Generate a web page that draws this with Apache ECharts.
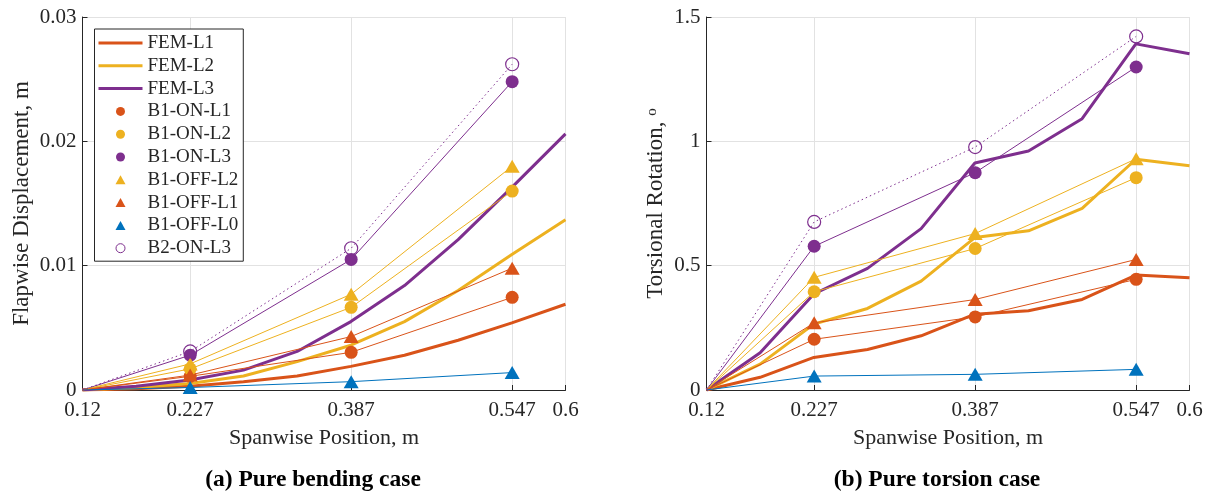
<!DOCTYPE html>
<html>
<head>
<meta charset="utf-8">
<script src="https://cdn.jsdelivr.net/npm/echarts@6/dist/echarts.min.js"></script>
<style>
  html, body { margin: 0; padding: 0; background: #fff; }
  #chart { width: 1207px; height: 491px; }
</style>
</head>
<body>
<div id="chart"></div>
<script>
// ---------------- data ----------------
const xTicks = [0.12, 0.227, 0.387, 0.547, 0.6];
const xFem = [0.12, 0.1733, 0.2267, 0.28, 0.3333, 0.3867, 0.44, 0.4933, 0.5467, 0.6];
const xExp = [0.12, 0.227, 0.387, 0.547];

// (a) Pure bending case: flapwise displacement, m
const bendFemL1 = [0, 0.0001, 0.0003, 0.00067, 0.00113, 0.0019, 0.0028, 0.004, 0.0054, 0.0069];
const bendFemL2 = [0, 0.0002, 0.00053, 0.00113, 0.00228, 0.0036, 0.0055, 0.008, 0.0109, 0.0137];
const bendFemL3 = [0, 0.0003, 0.0008, 0.0016, 0.0031, 0.0055, 0.0084, 0.0121, 0.0163, 0.0206];
const bendB1OnL1 = [0, 0.0011, 0.00303, 0.00745];
const bendB1OnL2 = [0, 0.0017, 0.00665, 0.016];
const bendB1OnL3 = [0, 0.0028, 0.0105, 0.0248];
const bendB1OffL2 = [0, 0.0021, 0.0077, 0.018];
const bendB1OffL1 = [0, 0.0012, 0.0043, 0.0098];
const bendB1OffL0 = [0, 0.0002, 0.00067, 0.0014];
const bendB2OnL3 = [0, 0.0031, 0.0114, 0.0262];

// (b) Pure torsion case: torsional rotation, deg
const torsFemL1 = [0, 0.051, 0.131, 0.163, 0.218, 0.305, 0.319, 0.364, 0.462, 0.451];
const torsFemL2 = [0, 0.104, 0.265, 0.328, 0.438, 0.613, 0.64, 0.73, 0.928, 0.902];
const torsFemL3 = [0, 0.15, 0.386, 0.489, 0.649, 0.913, 0.961, 1.091, 1.392, 1.352];
const torsB1OnL1 = [0, 0.204, 0.294, 0.445];
const torsB1OnL2 = [0, 0.395, 0.569, 0.854];
const torsB1OnL3 = [0, 0.578, 0.874, 1.299];
const torsB1OffL2 = [0, 0.453, 0.629, 0.93];
const torsB1OffL1 = [0, 0.27, 0.364, 0.525];
const torsB1OffL0 = [0, 0.056, 0.063, 0.083];
const torsB2OnL3 = [0, 0.676, 0.977, 1.422];

const legendNames = ['FEM-L1', 'FEM-L2', 'FEM-L3', 'B1-ON-L1', 'B1-ON-L2', 'B1-ON-L3',
                     'B1-OFF-L2', 'B1-OFF-L1', 'B1-OFF-L0', 'B2-ON-L3'];
const captions = ['(a) Pure bending case', '(b) Pure torsion case'];

// ---------------- styling ----------------
const FONT = '"Liberation Serif", "Times New Roman", serif';
const TXT = '#262626';
const C1 = '#D95319', C2 = '#EDB120', C3 = '#7E2F8E', C0 = '#0072BD';
const GRIDC = '#e2e2e2';

function femSeries(name, color, ys, gi) {
  return {
    type: 'line', name, xAxisIndex: gi, yAxisIndex: gi,
    data: xFem.map((x, i) => [x, ys[i]]),
    symbol: 'none', lineStyle: { color, width: 3 }, itemStyle: { color },
    z: 3
  };
}
function expSeries(name, color, symbol, ys, gi, extra) {
  extra = extra || {};
  const size = symbol === 'triangle' ? [15, 13] : 13;
  return {
    type: 'line', name, xAxisIndex: gi, yAxisIndex: gi,
    data: xExp.map((x, i) => i === 0 ? { value: [x, ys[i]], symbol: 'none' } : [x, ys[i]]),
    symbol, symbolSize: size,
    lineStyle: { color, width: 1, type: extra.lineType || 'solid' },
    itemStyle: extra.itemStyle || { color },
    z: 4
  };
}
function panelSeries(gi, d) {
  return [
    femSeries('FEM-L1', C1, d.f1, gi),
    femSeries('FEM-L2', C2, d.f2, gi),
    femSeries('FEM-L3', C3, d.f3, gi),
    expSeries('B1-ON-L1', C1, 'circle', d.on1, gi),
    expSeries('B1-ON-L2', C2, 'circle', d.on2, gi),
    expSeries('B1-ON-L3', C3, 'circle', d.on3, gi),
    expSeries('B1-OFF-L2', C2, 'triangle', d.off2, gi),
    expSeries('B1-OFF-L1', C1, 'triangle', d.off1, gi),
    expSeries('B1-OFF-L0', C0, 'triangle', d.off0, gi),
    expSeries('B2-ON-L3', C3, 'circle', d.b2, gi, {
      lineType: [1.5, 3],
      itemStyle: { color: 'rgba(255,255,255,0)', borderColor: C3, borderWidth: 1.2 }
    })
  ];
}

function xAxisDef(gi) {
  return {
    type: 'value', gridIndex: gi, min: 0.12, max: 0.6,
    name: 'Spanwise Position, m', nameLocation: 'middle', nameGap: 37,
    nameTextStyle: { fontFamily: FONT, fontSize: 22, color: TXT },
    axisLine: { show: true, onZero: false, lineStyle: { color: TXT, width: 1 } },
    axisTick: { show: true, inside: true, length: 5, customValues: xTicks, lineStyle: { color: TXT } },
    axisLabel: { customValues: xTicks, fontFamily: FONT, fontSize: 21, color: TXT, margin: 10 },
    splitLine: { show: true, lineStyle: { color: GRIDC, width: 1 } }
  };
}
function yAxisDef(gi, max, interval, name, gap, extraName) {
  return {
    type: 'value', gridIndex: gi, min: 0, max, interval,
    name, nameLocation: 'middle', nameGap: gap,
    nameTextStyle: Object.assign({ fontFamily: FONT, fontSize: 23, color: TXT }, extraName || {}),
    axisLine: { show: true, onZero: false, lineStyle: { color: TXT, width: 1 } },
    axisTick: { show: true, inside: true, length: 5, lineStyle: { color: TXT } },
    axisLabel: { fontFamily: FONT, fontSize: 21, color: TXT, margin: 6 },
    splitLine: { show: true, lineStyle: { color: GRIDC, width: 1 } }
  };
}

const lineIcon = 'path://M0,0H44V3H0Z';
const triIcon = 'path://M5,0L10,9L0,9Z';
const legendIcons = [lineIcon, lineIcon, lineIcon, 'circle', 'circle', 'circle',
                     triIcon, triIcon, triIcon, 'circle'];

const chart = echarts.init(document.getElementById('chart'), null, { renderer: 'canvas' });
chart.setOption({
  animation: false,
  backgroundColor: '#fff',
  grid: [
    { left: 82.5, top: 17, width: 483, height: 373 },
    { left: 706.5, top: 17, width: 483, height: 373 }
  ],
  xAxis: [xAxisDef(0), xAxisDef(1)],
  yAxis: [
    yAxisDef(0, 0.03, 0.01, 'Flapwise Displacement, m', 49),
    yAxisDef(1, 1.5, 0.5, 'Torsional Rotation, {sup|o}', 39, {
      rich: { sup: { fontFamily: FONT, fontSize: 15, color: TXT, verticalAlign: 'top', lineHeight: 15 } }
    })
  ],
  legend: {
    orient: 'vertical', left: 94.5, top: 29,
    itemWidth: 44, itemHeight: 9, itemGap: 2.8,
    padding: [4, 5, 3, 4],
    borderColor: TXT, borderWidth: 1, backgroundColor: '#fff',
    textStyle: { fontFamily: FONT, fontSize: 19, color: TXT, lineHeight: 20 },
    data: legendNames.map((n, i) => {
      const item = { name: n, icon: legendIcons[i] };
      if (n === 'B2-ON-L3') {
        item.itemStyle = { color: 'rgba(255,255,255,0)', borderColor: C3, borderWidth: 1 };
      }
      return item;
    }),
    selectedMode: false
  },
  graphic: [
    { type: 'text', x: 313, y: 480, style: { text: captions[0], font: 'bold 23.5px ' + FONT, fill: '#000', textAlign: 'center', textVerticalAlign: 'middle' } },
    { type: 'text', x: 937, y: 480, style: { text: captions[1], font: 'bold 23.5px ' + FONT, fill: '#000', textAlign: 'center', textVerticalAlign: 'middle' } }
  ],
  series: [].concat(
    panelSeries(0, { f1: bendFemL1, f2: bendFemL2, f3: bendFemL3, on1: bendB1OnL1, on2: bendB1OnL2, on3: bendB1OnL3,
                     off2: bendB1OffL2, off1: bendB1OffL1, off0: bendB1OffL0, b2: bendB2OnL3 }),
    panelSeries(1, { f1: torsFemL1, f2: torsFemL2, f3: torsFemL3, on1: torsB1OnL1, on2: torsB1OnL2, on3: torsB1OnL3,
                     off2: torsB1OffL2, off1: torsB1OffL1, off0: torsB1OffL0, b2: torsB2OnL3 })
  )
});
</script>
</body>
</html>
